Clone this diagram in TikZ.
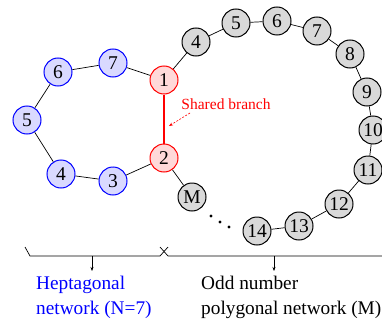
\documentclass[tikz,border=0pt]{standalone}
\usepackage{fontspec}
\setmainfont{Liberation Serif}
\usetikzlibrary{arrows.meta}
\begin{document}
\begin{tikzpicture}[x=1pt,y=-1pt,
  nd/.style={circle,minimum size=28pt,inner sep=0pt,line width=1pt,
    font=\fontsize{19.5}{19.5}\selectfont},
  bl/.style={nd,draw=blue,fill=blue!15},
  rd/.style={nd,draw=red,fill=red!15},
  gr/.style={nd,draw=black,fill=black!15},
  ed/.style={line width=0.7pt},
  lbl/.style={font=\fontsize{19.3}{24.5}\selectfont,align=left,inner sep=0pt},
  tip/.style={-{Stealth[length=4pt,width=3pt]},line width=0.5pt}]
\useasboundingbox (0,0) rectangle (382,329);
\clip (0,0) rectangle (382,329);

% heptagonal network
\node[rd] (r1) at (164,80) {1};
\node[rd] (r2) at (164,158) {2};
\node[bl] (b3) at (113,181) {3};
\node[bl] (b4) at (61,174) {4};
\node[bl] (b5) at (27,120) {5};
\node[bl] (b6) at (58,72) {6};
\node[bl] (b7) at (113,63) {7};

% odd polygonal network
\node[gr] (g4) at (196,42) {4};
\node[gr] (g5) at (236,23) {5};
\node[gr] (g6) at (277,21) {6};
\node[gr] (g7) at (317,31) {7};
\node[gr] (g8) at (350,54) {8};
\node[gr] (g9) at (367,92) {9};
\node[gr] (g10) at (373,130) {10};
\node[gr] (g11) at (368,170) {11};
\node[gr] (g12) at (339,204) {12};
\node[gr] (g13) at (299,226) {13};
\node[gr] (g14) at (257,231) {14};
\node[gr] (gM) at (192,197) {M};

\draw[ed] (r1) -- (b7) -- (b6) -- (b5) -- (b4) -- (b3) -- (r2);
\draw[ed] (r1) -- (g4) -- (g5) -- (g6) -- (g7) -- (g8) -- (g9) -- (g10)
  -- (g11) -- (g12) -- (g13) -- (g14);
\draw[ed] (r2) -- (gM);
\draw[red,line width=2.6pt] (r1) -- (r2);

% dots between M and 14
\foreach \p in {(211,216),(220,222),(229,227)}
  \fill \p circle (1.7);

% shared branch label
\node[red,font=\fontsize{15.5}{15.5}\selectfont,inner sep=0pt] (sb) at (226,104) {Shared branch};
\coordinate (sbs) at (190,113);
\coordinate (sbt) at (169,126);
\draw[red,dashed,dash pattern=on 2pt off 1.5pt,-{Stealth[length=4pt,width=3pt]},line width=0.6pt] (sbs) -- (sbt);

% brackets
\coordinate (la) at (25,247);
\coordinate (lb) at (30,256);
\coordinate (lc) at (160,256);
\coordinate (ld) at (168,247);
\coordinate (ra) at (160,247);
\coordinate (rb) at (168,256);
\coordinate (rc) at (390,256);
\draw[line width=0.7pt] (la) -- (lb) -- (lc) -- (ld);
\draw[line width=0.7pt] (ra) -- (rb) -- (rc);
\coordinate (lm) at (92,256);
\coordinate (lmt) at (92,271);
\coordinate (rm) at (274,256);
\coordinate (rmt) at (274,271);
\draw[tip] (lm) -- (lmt);
\draw[tip] (rm) -- (rmt);

\node[lbl,blue,anchor=north west] (hep) at (36,276) {Heptagonal\\network (N=7)};
\node[lbl,anchor=north west] (odd) at (201,276) {Odd number\\polygonal network (M)};
\end{tikzpicture}
\end{document}
